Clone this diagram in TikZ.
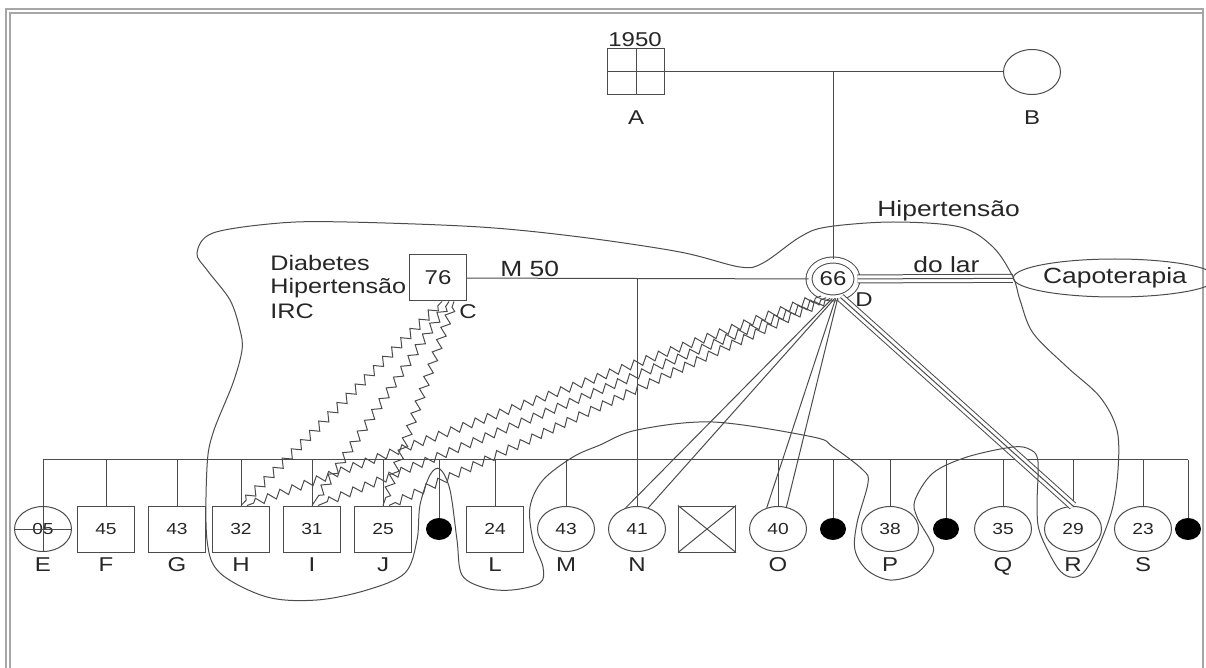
\documentclass[tikz,border=0pt]{standalone}
\usepackage{fontspec}
\setmainfont{Liberation Sans}[FakeStretch=1.2]
\usetikzlibrary{positioning,shapes.geometric,decorations.pathmorphing}

\tikzset{
  ln/.style={draw=black!70, line width=0.5pt},
  sq/.style={ln, rectangle, minimum width=28.5pt, minimum height=23pt, inner sep=0pt, text=black!85, font=\fontsize{8}{9}\selectfont},
  ci/.style={ln, ellipse, minimum width=28.5pt, minimum height=22.5pt, inner sep=0pt, text=black!85, font=\fontsize{8}{9}\selectfont},
  dot/.style={ellipse, fill=black, minimum width=13pt, minimum height=11pt, inner sep=0pt},
  lab/.style={inner sep=0pt, text=black!85, font=\fontsize{10}{12}\selectfont},
  txt/.style={inner sep=0pt, text=black!85, font=\fontsize{11}{13}\selectfont},
  zz/.style={ln, decorate, decoration={zigzag, segment length=6.5pt, amplitude=2pt, pre length=3pt, post length=3pt}},
  triple/.style={ln, double distance=3.5pt},
}

\begin{document}
\begin{tikzpicture}[x=0.5pt, y=-0.5pt]
    \useasboundingbox (0,0) rectangle (1206,668);
    % frame
    \draw[gray!70, line width=0.8pt] (6,668) -- (6,9) -- (1203,9) -- (1203,668);
    \draw[gray!70, line width=0.8pt] (10,668) -- (10,13) -- (1203,13);

    % grandparents
    \node[sq, minimum height=23pt] (A) at (636,72) {};
    \draw[ln] (A.north) -- (A.south) (A.west) -- (A.east);
    \node[txt, anchor=base west, font=\fontsize{10}{12}\selectfont] (yA) at (608,47) {1950};
    \node[ci] (B) at (1032,72) {};
    \node[lab, below=7.5pt of A] (lA) {A};
    \node[lab, below=7.5pt of B] (lB) {B};

    % parents
    \node[sq, font=\fontsize{10}{12}\selectfont] (C) at (438,278) {76};
    \node[ln, ellipse, double, double distance=2.5pt, minimum width=24pt, minimum height=19pt, inner sep=0pt, text=black!85, font=\fontsize{10}{12}\selectfont] (D) at (833,279) {66};
    \node[ln, ellipse, minimum width=82pt, minimum height=19pt, inner sep=0pt, text=black!85, font=\fontsize{11}{13}\selectfont] (Cap) at (1115,278) {Capoterapia};
    \node[lab] (lC) at (468,312) {C};
    \node[lab] (lD) at (864,300) {D};
    \node[txt, anchor=base west, font=\fontsize{10.5}{12}\selectfont] (t1) at (270,271) {Diabetes};
    \node[txt, anchor=base west, font=\fontsize{10.5}{12}\selectfont] (t2) at (270,294) {Hipertensão};
    \node[txt, anchor=base west, font=\fontsize{10.5}{12}\selectfont] (t3) at (270,319) {IRC};
    \node[txt, anchor=base west] (mC) at (500,277) {M 50};
    \node[txt, anchor=base west] (hD) at (877,217) {Hipertensão};
    \node[txt, anchor=base west] (oD) at (913,273) {do lar};

    \draw[ln] (A) -- (B);
    \draw[ln] (D.north |- A) -- (D.north);
    \draw[ln] (C) -- (D);
    \draw[triple] (D) -- (Cap);
    \draw[ln] (D) -- (Cap);

    % children
    \node[ci] (E) at (43,529) {05};
    \node[sq] (F) at (106,529) {45};
    \node[sq] (G) at (177,529) {43};
    \node[sq] (H) at (241,529) {32};
    \node[sq] (I) at (312,529) {31};
    \node[sq] (J) at (383,529) {25};
    \node[dot] (d1) at (439,529) {};
    \node[sq] (L) at (495,529) {24};
    \node[ci] (M) at (566,529) {43};
    \node[ci] (N) at (637,529) {41};
    \node[sq] (X) at (707,529) {};
    \node[ci] (O) at (778,529) {40};
    \node[dot] (d2) at (833,529) {};
    \node[ci] (P) at (890,529) {38};
    \node[dot] (d3) at (946,529) {};
    \node[ci] (Q) at (1003,529) {35};
    \node[ci] (R) at (1073,529) {29};
    \node[ci] (S) at (1143,529) {23};
    \node[dot] (d4) at (1188,529) {};
    \foreach \k in {E,F,G,H,I,J,L,M,N,O,P,Q,R,S}
        \node[lab, below=2.5pt of \k] (l\k) {\k};

    \coordinate (sibL) at (43,460);
    \coordinate (sibR) at (1188,460);
    \draw[ln] (sibL) -- (sibR);
    \foreach \k in {F,G,H,I,J,d1,L,M,O,d2,P,d3,Q,R,S,d4}
        \draw[ln] (\k |- sibL) -- (\k.north);
    \draw[ln] (sibL) -- (E.south) (E.west) -- (E.east);
    \draw[ln] (N |- C) -- (N.north);
    \draw[ln] (X.north west) -- (X.south east) (X.north east) -- (X.south west);

    % relations
    \draw[zz] ([xshift=2pt]C.south) -- (H.north);
    \draw[zz] ([xshift=5.5pt]C.south) -- (I.north);
    \draw[zz] ([xshift=8pt]C.south) -- (J.north);
    \draw[zz] (D.235) -- ([xshift=3pt]H.north);
    \draw[zz] (D.250) -- ([xshift=3pt]I.north);
    \draw[zz] (D.262) -- ([xshift=3pt]J.north);
    \draw[ln] (D.268) -- (N.118);
    \draw[ln] (D.275) -- (N.62);
    \draw[ln] (D.278) -- (O.118);
    \draw[ln] (D.284) -- (O.69);
    \draw[triple] (D.292) -- (R.north);
    \draw[ln] (D.292) -- (R.north);

    % household
    \draw[ln] plot[smooth cycle, tension=0.55] coordinates {
        (197,253) (213,233) (280,223) (347,222) (480,227) (580,237) (680,252)
        (740,267) (763,263) (800,237) (827,227) (893,222) (960,227) (993,247)
        (1013,277) (1020,300) (1033,333) (1067,367) (1100,397) (1117,430)
        (1118,470) (1112,510) (1097,550) (1083,573) (1070,577) (1057,567)
        (1040,533) (1037,507) (1038,462) (1031,450) (1013,447) (967,457)
        (933,473) (915,500) (917,517) (930,540) (933,553) (917,573) (890,580)
        (867,570) (855,550) (857,523) (868,483) (863,470) (833,447) (813,437)
        (713,422) (637,430) (600,445) (573,457) (543,480) (530,507) (533,540)
        (543,567) (540,583) (512,590) (485,588) (462,575) (457,540) (450,490)
        (440,469) (430,475) (420,505) (417,540) (405,573) (367,590) (317,600)
        (267,597) (220,573) (207,540) (207,467) (213,433) (233,383) (242,350)
        (240,330) (230,300) (207,270)};
\end{tikzpicture}
\end{document}
